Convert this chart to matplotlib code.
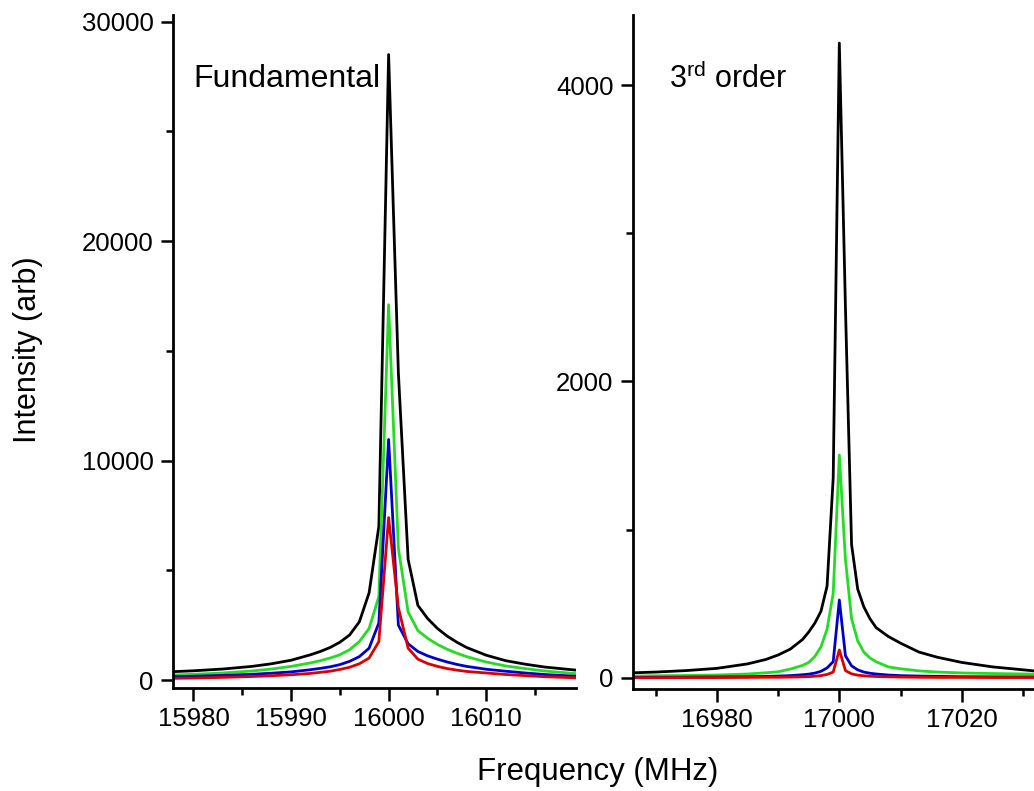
"""Fundamental and 3rd-order line shapes, four traces each."""
import matplotlib
matplotlib.use("Agg")
import matplotlib.pyplot as plt

plt.rcParams.update({"font.family": "Liberation Sans",
                     "mathtext.fontset": "custom",
                     "mathtext.rm": "Liberation Sans",
                     "axes.spines.top": False, "axes.spines.right": False,
                     "axes.linewidth": 2.0})

# ---- fundamental (left panel) ----
freq_fund = [15977.9, 15980, 15983, 15986, 15988, 15990, 15992, 15993, 15994, 15995,
             15996, 15997, 15998, 15999, 16000, 16001, 16002, 16003, 16004, 16005,
             16006, 16007, 16008, 16010, 16012, 16014, 16016, 16019.2]
fund_black = [380, 420, 500, 620, 740, 900, 1150, 1300, 1480, 1720,
              2050, 2650, 3970, 7000, 28500, 14000, 5500, 3400, 2800, 2350,
              2000, 1720, 1480, 1130, 880, 720, 590, 450]
fund_green = [228, 260, 320, 410, 500, 620, 780, 880, 1000, 1150,
              1380, 1750, 2350, 3800, 17100, 6000, 3100, 2250, 1900, 1620,
              1400, 1220, 1065, 820, 640, 520, 410, 290]
fund_blue = [152, 170, 210, 260, 310, 370, 470, 530, 600, 700,
             850, 1065, 1450, 2600, 10960, 2500, 1650, 1300, 1100, 950,
             820, 710, 620, 490, 400, 320, 250, 170]
fund_red = [76, 90, 120, 160, 195, 240, 300, 350, 400, 480,
            580, 740, 1000, 1750, 7400, 3300, 1450, 950, 750, 620,
            520, 450, 390, 320, 250, 200, 150, 100]

# ---- 3rd order (right panel) ----
freq_third = [16966.3, 16970, 16975, 16980, 16985, 16988, 16990, 16992, 16994, 16995,
              16996, 16997, 16998, 16999, 17000, 17001, 17002, 17003, 17004, 17005,
              17006, 17008, 17010, 17013, 17016, 17020, 17025, 17031.8]
third_black = [35, 40, 50, 65, 95, 125, 155, 195, 260, 310,
               370, 450, 620, 1350, 4283, 2500, 900, 600, 480, 400,
               340, 280, 235, 175, 140, 105, 75, 48]
third_green = [13, 15, 17, 20, 27, 35, 42, 60, 85, 105,
               145, 210, 330, 570, 1504, 800, 400, 250, 175, 135,
               110, 75, 62, 48, 40, 34, 30, 26]
third_blue = [4, 5, 6, 7, 9, 11, 13, 16, 22, 26,
              33, 45, 68, 110, 526, 150, 82, 55, 40, 32,
              27, 20, 16, 13, 11, 9, 8, 7]
third_red = [2, 2, 3, 3, 4, 5, 5, 6, 8, 9,
             12, 16, 24, 40, 189, 50, 28, 19, 15, 12,
             10, 8, 6, 5, 4, 4, 3, 3]

colors = ["black", "#22dd22", "#0000cc", "#dd0000"]

fig = plt.figure(figsize=(10.34, 7.91), dpi=100)
ax1 = fig.add_axes([0.1673, 0.1302, 0.3897, 0.8508])
ax2 = fig.add_axes([0.6122, 0.1290, 0.3878, 0.8520])

for ys, c in zip([fund_black, fund_green, fund_blue, fund_red], colors):
    ax1.plot(freq_fund, ys, color=c, lw=2.0)
for ys, c in zip([third_black, third_green, third_blue, third_red], colors):
    ax2.plot(freq_third, ys, color=c, lw=2.0)

ax1.set_xlim(15977.9, 16019.2)
ax1.set_ylim(-365, 30300)
ax1.set_xticks([15980, 15990, 16000, 16010])
ax1.set_xticks([15985, 15995, 16005, 16015], minor=True)
ax1.set_yticks([0, 10000, 20000, 30000])
ax1.set_yticks([5000, 15000, 25000], minor=True)

ax2.set_xlim(16966.3, 17031.8)
ax2.set_ylim(-74, 4472)
ax2.set_xticks([16980, 17000, 17020])
ax2.set_xticks([16970, 16990, 17010, 17030], minor=True)
ax2.set_yticks([0, 2000, 4000])
ax2.set_yticks([1000, 3000], minor=True)

for ax in (ax1, ax2):
    ax.tick_params(which="major", length=9, width=1.8, labelsize=18.5, pad=5)
    ax.tick_params(which="minor", length=5, width=1.8)
    ax.tick_params(axis="y", which="major", pad=5)

ax1.text(0.05, 0.905, "Fundamental", transform=ax1.transAxes,
         fontsize=23, va="center", ha="left")
ax2.text(0.09, 0.905, r"3$^{\mathrm{rd}}$ order", transform=ax2.transAxes,
         fontsize=22, va="center", ha="left")

fig.text(598 / 1034, 1 - 772 / 791, "Frequency (MHz)", fontsize=22.5,
         ha="center", va="center")
fig.text(28 / 1034, 1 - 350 / 791, "Intensity (arb)", fontsize=22,
         ha="center", va="center", rotation=90)

fig.savefig("out.png", dpi=100)
